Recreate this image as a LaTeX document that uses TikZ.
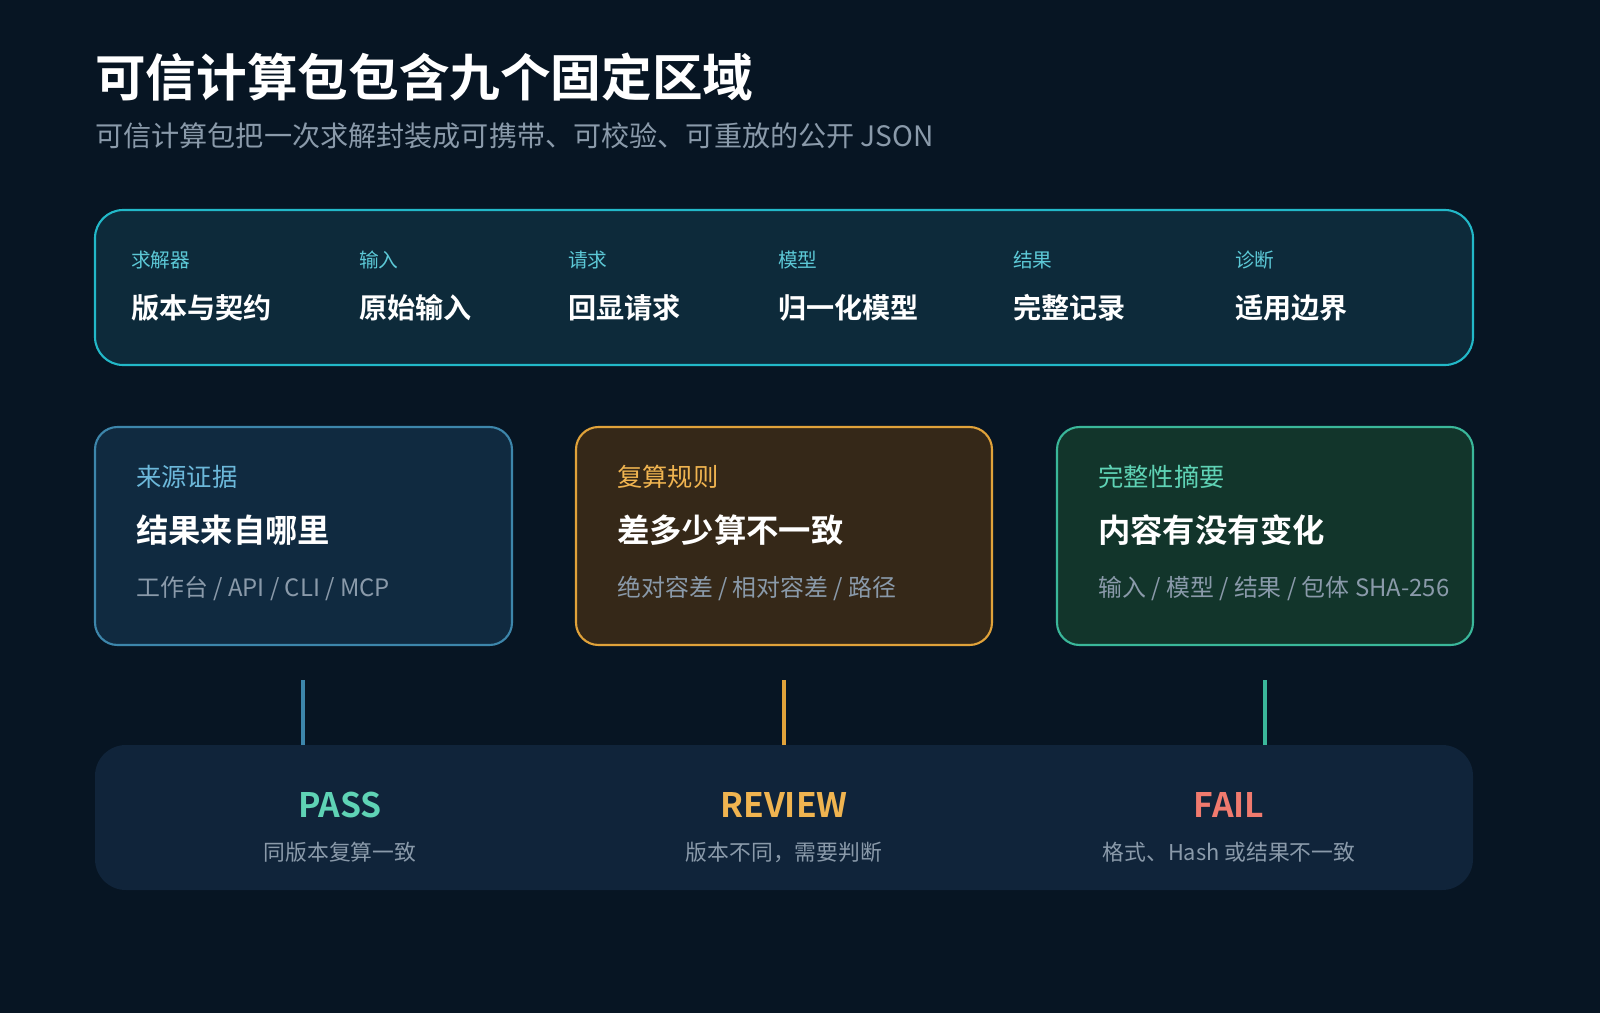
\documentclass[tikz,border=0pt]{standalone}
\usepackage{fontspec}
\setmainfont{Noto Sans CJK SC}[BoldFont={Noto Sans CJK SC Bold}]
\usetikzlibrary{positioning}
\definecolor{bgc}{HTML}{071523}
\definecolor{topfill}{HTML}{0D2A3A}
\definecolor{topline}{HTML}{22B8C8}
\definecolor{topkey}{HTML}{5CC8D6}
\definecolor{greyt}{HTML}{8A9AAA}
\definecolor{srcline}{HTML}{3D86AB}
\definecolor{srcfill}{HTML}{102A40}
\definecolor{srckey}{HTML}{6CB8DA}
\definecolor{ruleline}{HTML}{E0A23A}
\definecolor{rulefill}{HTML}{352818}
\definecolor{rulekey}{HTML}{F0B450}
\definecolor{hashline}{HTML}{3AB79A}
\definecolor{hashfill}{HTML}{12352B}
\definecolor{hashkey}{HTML}{5FD3B5}
\definecolor{panel}{HTML}{10243A}
\definecolor{failc}{HTML}{F07A6E}
\tikzset{
 key/.style={anchor=base west, inner sep=0pt, font=\fontsize{14}{16}\selectfont},
 val/.style={anchor=base west, inner sep=0pt, text=white, font=\bfseries\fontsize{20}{24}\selectfont},
 card/.style={draw=#1, line width=1.5pt, rounded corners=16pt},
 head/.style={anchor=base west, inner sep=0pt, font=\fontsize{18}{22}\selectfont},
 big/.style={anchor=base west, inner sep=0pt, text=white, font=\bfseries\fontsize{23}{28}\selectfont},
 note/.style={anchor=base west, inner sep=0pt, text=greyt, font=\fontsize{17}{20}\selectfont},
 verdict/.style={anchor=base, inner sep=0pt, font=\bfseries\fontsize{24}{28}\selectfont},
 why/.style={anchor=base, inner sep=0pt, text=greyt, font=\fontsize{15.5}{18}\selectfont},
 link/.style={line width=2.5pt}
}
\begin{document}
\begin{tikzpicture}[x=0.025cm,y=-0.025cm]
\fill[bgc] (0,0) rectangle (1600,1013);
\useasboundingbox (0,0) rectangle (1600,1013);
% title
\node[anchor=base west, inner sep=0pt, text=white, font=\bfseries\fontsize{36}{40}\selectfont] (title) at (95,96) {可信计算包包含九个固定区域};
\node[anchor=base west, inner sep=0pt, text=greyt, font=\fontsize{20}{24}\selectfont] (sub) at (95,146) {可信计算包把一次求解封装成可携带、可校验、可重放的公开 JSON};
% top band
\draw[card=topline, fill=topfill, rounded corners=20pt] (95,210) rectangle (1473,365);
\foreach \x/\k/\v [count=\i] in {131/求解器/版本与契约, 359/输入/原始输入, 568/请求/回显请求, 778/模型/归一化模型, 1013/结果/完整记录, 1235/诊断/适用边界}{
 \node[key, text=topkey] (k\i) at (\x,267) {\k};
 \node[val] (v\i) at (\x,318) {\v};
}
% three cards
\draw[card=srcline, fill=srcfill] (95,427) rectangle (512,645);
\draw[card=ruleline, fill=rulefill] (576,427) rectangle (992,645);
\draw[card=hashline, fill=hashfill] (1057,427) rectangle (1473,645);
\node[head, text=srckey] (srch) at (136,486) {来源证据};
\node[big] (srcb) at (136,542) {结果来自哪里};
\node[note] (srcn) at (136,596) {工作台 / API / CLI / MCP};
\node[head, text=rulekey] (ruleh) at (617,486) {复算规则};
\node[big] (ruleb) at (617,542) {差多少算不一致};
\node[note] (rulen) at (617,596) {绝对容差 / 相对容差 / 路径};
\node[head, text=hashkey] (hashh) at (1098,486) {完整性摘要};
\node[big] (hashb) at (1098,542) {内容有没有变化};
\node[note] (hashn) at (1098,596) {输入 / 模型 / 结果 / 包体 SHA-256};
% verdict panel
\fill[panel, rounded corners=22pt] (95,745) rectangle (1473,890);
\coordinate (srcup) at (303,680);
\coordinate (srcdn) at (303,745);
\coordinate (ruleup) at (784,680);
\coordinate (ruledn) at (784,745);
\coordinate (hashup) at (1265,680);
\coordinate (hashdn) at (1265,745);
\draw[link, srcline] (srcup) -- (srcdn);
\draw[link, ruleline] (ruleup) -- (ruledn);
\draw[link, hashline] (hashup) -- (hashdn);
\node[verdict, text=hashkey] (pass) at (340,817) {PASS};
\node[why] (passw) at (340,860) {同版本复算一致};
\node[verdict, text=rulekey] (review) at (784,817) {REVIEW};
\node[why] (revieww) at (784,860) {版本不同，需要判断};
\node[verdict, text=failc] (fail) at (1229,817) {FAIL};
\node[why] (failw) at (1229,860) {格式、Hash 或结果不一致};
\end{tikzpicture}
\end{document}
